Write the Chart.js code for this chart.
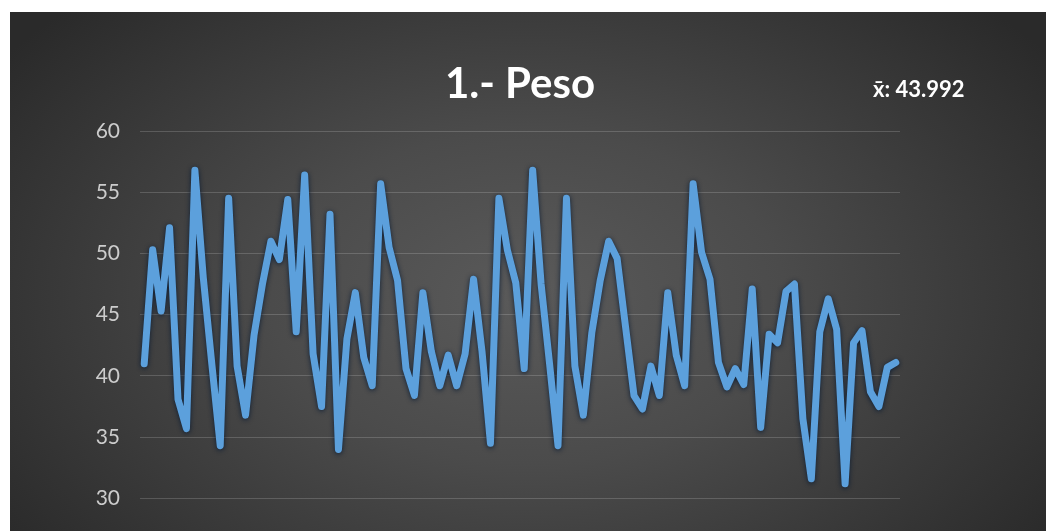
<!DOCTYPE html>
<html>
<head>
<meta charset="utf-8">
<script src="https://cdn.jsdelivr.net/npm/chart.js@4"></script>
<style>
  html, body { margin: 0; padding: 0; background: #ffffff; }
  #panel {
    position: absolute; left: 10px; top: 12px; width: 1036px; height: 519px;
    background: radial-gradient(ellipse 62% 80% at 50% 55%, #5a5a5a 0%, #4b4b4b 40%, #2a2a2a 100%);
  }
  #chart { display: block; }
</style>
</head>
<body>
<div id="panel"><canvas id="chart" width="1036" height="519"></canvas></div>
<script>
// Peso por alumno
const titleText = '1.- Peso';
const meanText = 'x\u0304: 43.992';

const pesoValues = [
    41.0, 50.3, 45.3, 52.1, 38.1, 35.7, 56.8, 48.0, 41.0, 34.3,
    54.5, 40.8, 36.8, 43.3, 47.5, 51.0, 49.5, 54.4, 43.6, 56.4,
    41.8, 37.5, 53.2, 34.0, 43.0, 46.8, 41.5, 39.2, 55.7, 50.5,
    47.8, 40.6, 38.4, 46.8, 42.0, 39.2, 41.7, 39.2, 41.8, 47.9,
    42.0, 34.5, 54.5, 50.3, 47.6, 40.6, 56.8, 47.5, 41.0, 34.3,
    54.5, 40.8, 36.8, 43.5, 47.8, 51.0, 49.6, 44.0, 38.4, 37.3,
    40.8, 38.4, 46.8, 41.7, 39.2, 55.7, 50.1, 47.9, 41.1, 39.1,
    40.6, 39.3, 47.1, 35.8, 43.4, 42.7, 46.9, 47.5, 36.5, 31.6,
    43.6, 46.3, 43.8, 31.2, 42.7, 43.7, 38.7, 37.5, 40.7, 41.1
];
const categories = pesoValues.map((v, i) => String(i + 1));

const yMin = 30;
const yMax = 60;
const yStep = 5;

// sombra oscura alrededor de la línea, como en Excel
const lineShadow = {
    id: 'lineShadow',
    beforeDatasetDraw(chart) {
        const ctx = chart.ctx;
        ctx.save();
        ctx.shadowColor = 'rgba(8, 25, 50, 0.9)';
        ctx.shadowBlur = 5;
        ctx.shadowOffsetX = 0;
        ctx.shadowOffsetY = 1;
    },
    afterDatasetDraw(chart) {
        chart.ctx.restore();
    }
};

// título y media
const headerText = {
    id: 'headerText',
    afterDraw(chart) {
        const ctx = chart.ctx;
        ctx.save();
        ctx.fillStyle = '#ffffff';
        ctx.textBaseline = 'alphabetic';
        ctx.textAlign = 'center';
        ctx.font = 'bold 42px Lato';
        ctx.fillText(titleText, 510, 86);
        ctx.textAlign = 'left';
        ctx.font = 'bold 22px Lato';
        ctx.fillText(meanText, 863, 85);
        ctx.restore();
    }
};

new Chart(document.getElementById('chart').getContext('2d'), {
    type: 'line',
    data: {
        labels: categories,
        datasets: [{
            data: pesoValues,
            borderColor: '#5ca0dc',
            borderWidth: 7,
            borderJoinStyle: 'round',
            borderCapStyle: 'round',
            pointRadius: 0,
            tension: 0,
            fill: false,
        }],
    },
    options: {
        responsive: false,
        animation: false,
        layout: { padding: { top: 119, bottom: 31, left: 0, right: 146 } },
        plugins: {
            legend: { display: false },
            tooltip: { enabled: false },
        },
        scales: {
            x: {
                type: 'category',
                offset: true,
                display: false,
            },
            y: {
                min: yMin,
                max: yMax,
                ticks: {
                    stepSize: yStep,
                    color: '#cccccc',
                    font: { family: 'Lato', size: 21 },
                    padding: 20,
                },
                grid: {
                    color: 'rgba(255, 255, 255, 0.17)',
                    lineWidth: 1,
                    drawTicks: false,
                },
                border: { display: false },
                afterFit(scale) { scale.width = 130; },
            },
        },
    },
    plugins: [lineShadow, headerText],
});
</script>
</body>
</html>
